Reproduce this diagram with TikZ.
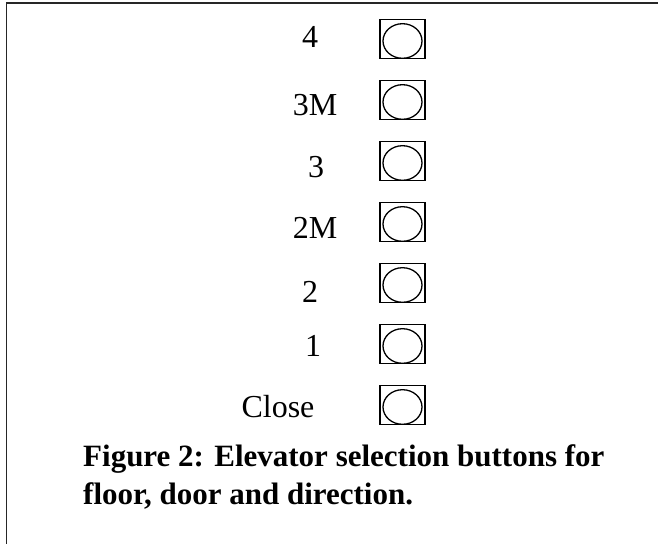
\documentclass[tikz,border=0pt]{standalone}
\usepackage{fontspec}
\setmainfont{Liberation Serif}
\begin{document}
\begin{tikzpicture}[x=1pt,y=-1pt,
  lbl/.style={anchor=base,inner sep=0pt,font=\fontsize{32}{36}\selectfont},
  btn/.style={draw,line width=1.6pt,rectangle,minimum width=45pt,minimum height=39pt,inner sep=0pt},
  knob/.style={line width=1.3pt},
  frameline/.style={line width=1.8pt,draw=black!85},
  captext/.style={anchor=base west,inner sep=0pt,align=left,font=\bfseries\fontsize{31}{38}\selectfont}]
\useasboundingbox (0,0) rectangle (658,543);
% frame
\coordinate (tl) at (6.5,3);
\coordinate (tr) at (660,3);
\coordinate (bl) at (6.5,545);
\draw[frameline] (tr) -- (tl) -- (bl);
% buttons
\foreach \n/\t/\cx/\by [count=\i] in {b4/4/310/48, b3M/3M/315/115, b3/3/316/177, b2M/2M/315/238, b2/2/310/302, b1/1/313/356, bC/Close/278/417}{
  \pgfmathsetmacro{\cy}{39+61*(\i-1)}
  \node[btn] (\n) at (402.5,\cy) {};
  \draw[knob] ([yshift=-2pt]\n.center) ellipse [x radius=19.5pt, y radius=17.3pt];
  \node[lbl] (l\n) at (\cx,\by) {\t};
}
% caption
\node[captext] (caption) at (83,504) {Figure 2: Elevator selection buttons for\\floor, door and direction.};
\end{tikzpicture}
\end{document}
